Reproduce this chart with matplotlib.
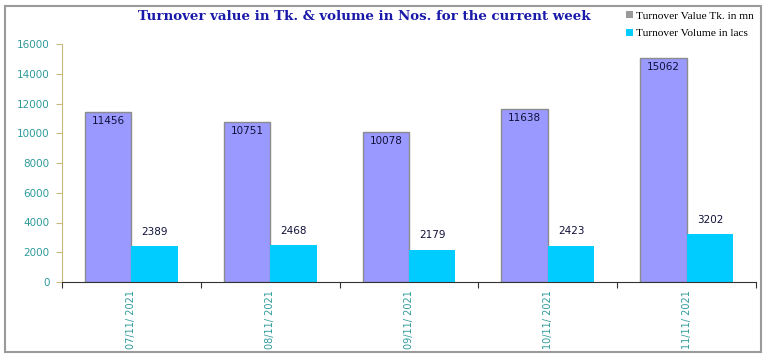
import matplotlib
matplotlib.use('Agg')
import matplotlib.pyplot as plt
import numpy as np
from matplotlib.patches import Rectangle, Patch

# Data
dates = ['07/11/ 2021', '08/11/ 2021', '09/11/ 2021', '10/11/ 2021', '11/11/ 2021']
turnover_value = [11456, 10751, 10078, 11638, 15062]
turnover_volume = [2389, 2468, 2179, 2423, 3202]

fig = plt.figure(figsize=(7.68, 3.58), dpi=100)
ax = fig.add_axes([62 / 768, 1 - 282 / 358, 694 / 768, 238 / 358])

# Outer chart frame
fig.patches.append(Rectangle((5 / 768, 6 / 358), 756 / 768, 346 / 358,
                             transform=fig.transFigure, fill=False,
                             edgecolor='#9a9a9a', linewidth=1.5))

x = np.arange(len(dates))
width = 0.335

bars_val = ax.bar(x - width / 2, turnover_value, width, color='#9999ff',
                  edgecolor='#8c8c8c', linewidth=1)
bars_vol = ax.bar(x + width / 2, turnover_volume, width, color='#00ccff',
                  edgecolor='none')

label_color = '#10103a'
for b, v in zip(bars_val, turnover_value):
    ax.annotate(f'{v}', (b.get_x() + b.get_width() / 2, v), xytext=(0, -3),
                textcoords='offset points', ha='center', va='top',
                fontsize=7.5, color=label_color)
for b, v in zip(bars_vol, turnover_volume):
    ax.annotate(f'{v}', (b.get_x() + b.get_width() / 2, v), xytext=(0, 7),
                textcoords='offset points', ha='center', va='bottom',
                fontsize=7.5, color=label_color)

ax.set_xlim(-0.5, len(dates) - 0.5)
ax.set_ylim(0, 16000)
ax.set_yticks(np.arange(0, 16001, 2000))

# major ticks at category boundaries, labels on minor ticks at centres
ax.set_xticks(np.arange(-0.5, len(dates), 1.0))
ax.set_xticklabels([])
ax.set_xticks(x, minor=True)
ax.set_xticklabels(dates, minor=True, rotation=90, fontsize=7, color='#2e9a9a')
ax.tick_params(axis='x', which='minor', length=0, pad=6)
ax.tick_params(axis='x', which='major', length=4, color='#333333', direction='out')
ax.tick_params(axis='y', length=4, color='#c8b97a', labelsize=7.5,
               labelcolor='#2e9a9a', pad=5)

for s in ['top', 'right']:
    ax.spines[s].set_visible(False)
ax.spines['left'].set_color('#c8b97a')
ax.spines['bottom'].set_color('#333333')

fig.text(364 / 768, 1 - 16 / 358, 'Turnover value in Tk. & volume in Nos. for the current week',
         ha='center', va='center', fontsize=9.6, fontweight='bold',
         family='DejaVu Serif', color='#1a1aaa')

handles = [Patch(facecolor='#9a9a9a', edgecolor='none'),
           Patch(facecolor='#00ccff', edgecolor='none')]
fig.legend(handles, ['Turnover Value Tk. in mn', 'Turnover Volume in lacs'],
           loc='upper left', bbox_to_anchor=(618 / 768, 1 - 3 / 358),
           frameon=False, prop={'family': 'Liberation Serif', 'size': 8.2},
           handlelength=0.6, handleheight=0.6, handletextpad=0.3,
           labelspacing=0.7, borderpad=0.2)

fig.savefig('out.png', dpi=100)
